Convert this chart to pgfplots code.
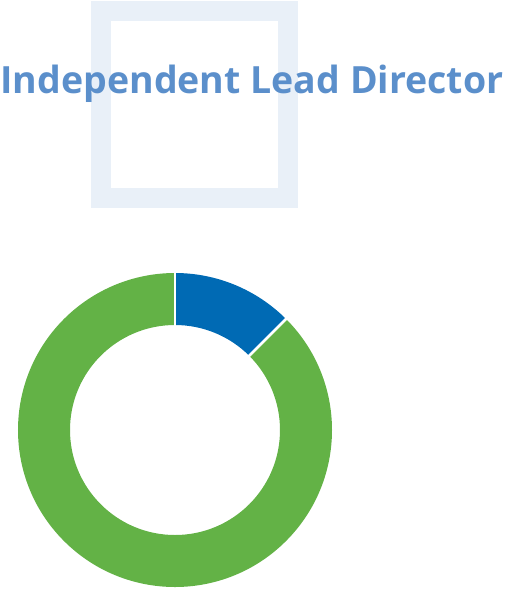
\documentclass[border=0pt]{standalone}
\usepackage{fontspec}
\setmainfont{Open Sans}
\usepackage{pgfplots}
\usepackage{pgfplotstable}
\pgfplotsset{compat=1.18}

\definecolor{titleblue}{HTML}{5B8FCB}
\definecolor{framebg}{HTML}{E9F0F8}
\definecolor{pieblue}{HTML}{006AB4}
\definecolor{piegreen}{HTML}{63B246}

% share of the ring, clockwise from 12 o'clock
\pgfplotstableread{
label value
Yes   1
No    7
}\piedata

\begin{document}
\begin{tikzpicture}
  \pgfplotstablegetelem{0}{value}\of\piedata \let\va\pgfplotsretval
  \pgfplotstablegetelem{1}{value}\of\piedata \let\vb\pgfplotsretval
  \pgfmathsetmacro\angA{90-360*\va/(\va+\vb)}
  \pgfmathsetmacro\angB{\angA-360*\vb/(\va+\vb)}

  \begin{axis}[
    at={(0,0)}, anchor=south west,
    scale only axis,
    width=504pt, height=592pt,
    xmin=0, xmax=504,
    ymin=0, ymax=592,
    y dir=reverse,
    hide axis,
    clip=false,
    ]
    % decorative frame behind the title
    \draw[framebg, line width=20pt] (axis cs:101,11) rectangle (axis cs:287.5,197.5);
    \node[anchor=base, text=titleblue, inner sep=0pt, font=\fontsize{37.5}{40}\selectfont\bfseries]
      at (axis cs:252,93) {Independent Lead Director};

    % ring segments
    \fill[pieblue] (axis cs:175,430) ++(90:157pt)
      arc[start angle=90, end angle=\angA, radius=157pt]
      -- ([shift={(\angA:105pt)}]axis cs:175,430)
      arc[start angle=\angA, end angle=90, radius=105pt] -- cycle;
    \fill[piegreen] (axis cs:175,430) ++(\angA:157pt)
      arc[start angle=\angA, end angle=\angB, radius=157pt]
      -- ([shift={(\angB:105pt)}]axis cs:175,430)
      arc[start angle=\angB, end angle=\angA, radius=105pt] -- cycle;
    % white separators
    \draw[white, line width=2.5pt] ([shift={(90:100pt)}]axis cs:175,430) -- ([shift={(90:162pt)}]axis cs:175,430);
    \draw[white, line width=2.5pt] ([shift={(\angA:100pt)}]axis cs:175,430) -- ([shift={(\angA:162pt)}]axis cs:175,430);
  \end{axis}
  \pgfresetboundingbox
  \useasboundingbox (0,0) rectangle (504pt,592pt);
\end{tikzpicture}
\end{document}
